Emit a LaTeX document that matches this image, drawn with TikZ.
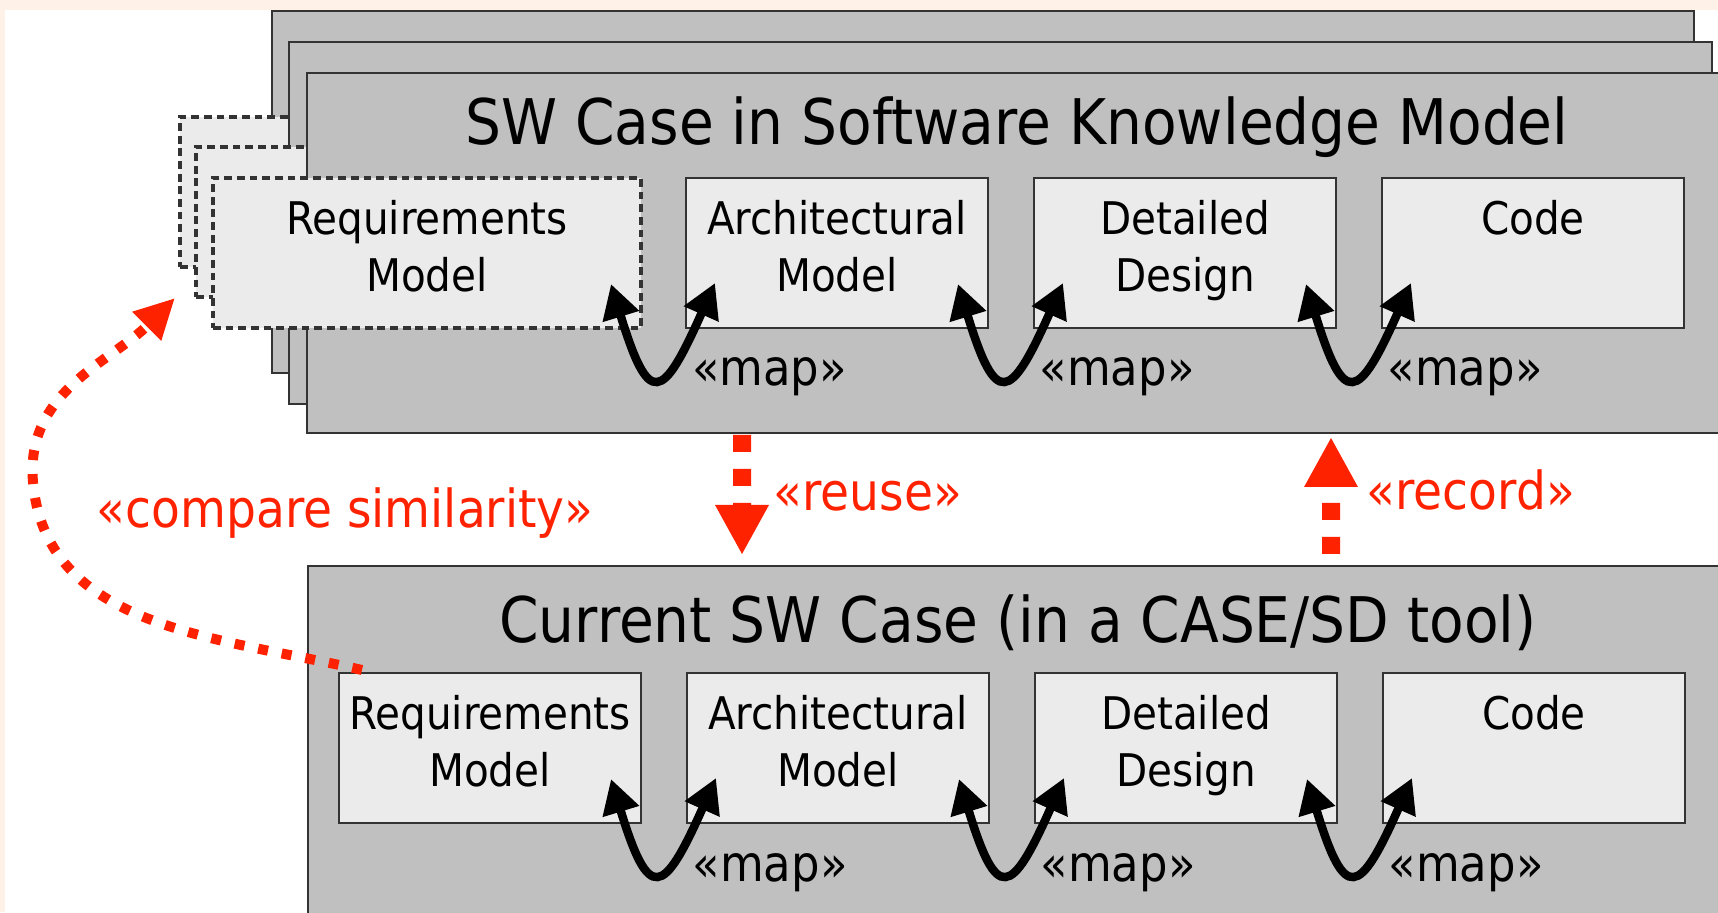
\documentclass[tikz,border=0pt]{standalone}
\usepackage{fontspec}
\setmainfont{DejaVu Sans}[FakeStretch=0.9]
\usetikzlibrary{arrows.meta,calc}
\definecolor{cardgray}{HTML}{C0C0C0}
\definecolor{boxgray}{HTML}{EBEBEB}
\definecolor{edgegray}{HTML}{333333}
\definecolor{umlred}{HTML}{FF2200}
\definecolor{slidebg}{HTML}{FDF1E8}
\tikzset{
  card/.style={draw=edgegray, line width=0.8pt, fill=cardgray, anchor=north west, inner sep=0pt, outer sep=0pt},
  box/.style={draw=edgegray, line width=0.7pt, fill=boxgray, anchor=north west, inner sep=0pt, outer sep=0pt, minimum width=3.02cm, minimum height=1.5cm},
  reqbox/.style={box, line width=0.9pt, dash pattern=on 2.2pt off 1.4pt, minimum width=4.28cm},
  lbl/.style={anchor=north, align=center, inner sep=0pt, yshift=-0.22cm, font=\fontsize{12.8}{16.2}\selectfont},
  title/.style={anchor=base, inner sep=0pt, font=\fontsize{17.9}{21}\selectfont},
  maplbl/.style={anchor=base west, inner sep=0pt, font=\fontsize{14.2}{17}\selectfont},
  redlbl/.style={anchor=base west, inner sep=0pt, text=umlred, font=\fontsize{14.9}{18}\selectfont},
  maparrow/.style={line width=2.4pt, {Triangle[length=0.34cm,width=0.36cm]}-{Triangle[length=0.34cm,width=0.36cm]}},
  flow/.style={draw=umlred, line width=0.18cm, dash pattern=on 0.17cm off 0.17cm, -{Triangle[length=0.5cm,width=0.5cm]}},
  similar/.style={draw=umlred, line width=0.1cm, dash pattern=on 0.1cm off 0.14cm, -{Triangle[length=0.4cm,width=0.38cm]}}
}
\begin{document}
\begin{tikzpicture}
  \useasboundingbox (0,0) rectangle (17.18,9.12);
  \clip (0,0) rectangle (17.18,9.12);
  \fill[white] (0,0) rectangle (17.18,9.12);
  \fill[slidebg] (0,9.02) rectangle (17.18,9.12);
  \fill[slidebg] (0,0) rectangle (0.05,9.12);

  \node[card, minimum width=14.22cm, minimum height=3.62cm] (tc1) at (2.72,9.01) {};
  \node[reqbox] (tReq1) at (1.80,7.95) {};
  \node[card, minimum width=14.23cm, minimum height=3.62cm] (tc2) at (2.89,8.70) {};
  \node[reqbox] (tReq2) at (1.96,7.65) {};
  \node[card, minimum width=14.30cm, minimum height=3.60cm] (tc3) at (3.07,8.39) {};
  \node[reqbox, label={[lbl]north:Requirements\\Model}] (tReq) at (2.13,7.34) {};
  \node[box, label={[lbl]north:Architectural\\Model}] (tArch) at (6.86,7.34) {};
  \node[box, label={[lbl]north:Detailed\\Design}] (tDet) at (10.34,7.34) {};
  \node[box, label={[lbl]north:Code}] (tCode) at (13.82,7.34) {};
  \node[title] (tTitle) at (10.17,7.67) {SW Case in Software Knowledge Model};

  \node[card, minimum width=14.30cm, minimum height=3.60cm] (bc) at (3.08,3.46) {};
  \node[box, label={[lbl]north:Requirements\\Model}] (bReq) at (3.39,2.39) {};
  \node[box, label={[lbl]north:Architectural\\Model}] (bArch) at (6.87,2.39) {};
  \node[box, label={[lbl]north:Detailed\\Design}] (bDet) at (10.35,2.39) {};
  \node[box, label={[lbl]north:Code}] (bCode) at (13.83,2.39) {};
  \node[title] (bTitle) at (10.18,2.70) {Current SW Case (in a CASE/SD tool)};

  \foreach \a/\b in {tReq/tArch, tArch/tDet, tDet/tCode, bReq/bArch, bArch/bDet, bDet/bCode} {
    \draw[maparrow] ($(\a.south east)+(-0.3,0.44)$) .. controls +(-73:1.3) and +(-114:1.3) ..
      ($(\b.south west)+(0.29,0.45)$);
    \node[maplbl] (map\a) at ($(\a.south east)!0.5!(\b.south west)+(0.28,-0.58)$) {«map»};
  }

  \draw[flow] ([xshift=4.35cm,yshift=-0.02cm]tc3.south west) -- ([xshift=4.34cm,yshift=0.11cm]bc.north west);
  \draw[flow] ([xshift=10.23cm,yshift=0.12cm]bc.north west) -- ([xshift=10.24cm,yshift=-0.04cm]tc3.south west);
  \node[redlbl] (reuse) at (7.73,4.01) {«reuse»};
  \node[redlbl] (record) at (13.66,4.02) {«record»};

  \coordinate (bend) at (0.33,4.30);
  \draw[similar] ([xshift=0.23cm,yshift=0.03cm]bReq.north west) to[out=167,in=-85] (bend)
    to[out=95,in=225] ([xshift=-0.05cm,yshift=-0.31cm]tReq1.south west);
  \node[redlbl] (compare) at (0.96,3.84) {«compare similarity»};
\end{tikzpicture}
\end{document}
